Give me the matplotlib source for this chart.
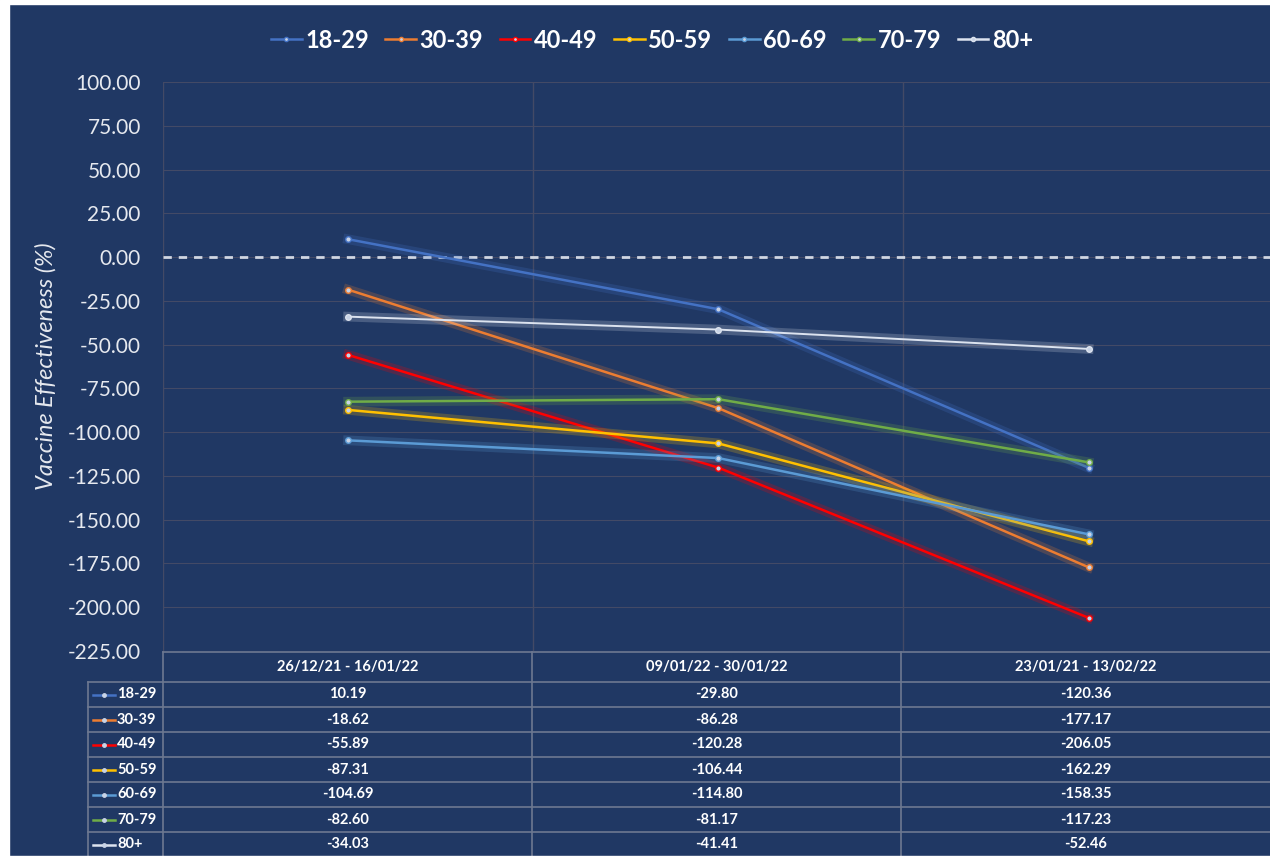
import matplotlib
matplotlib.use("Agg")
from matplotlib import pyplot as plt
from matplotlib.lines import Line2D
from matplotlib.patches import Rectangle
import matplotlib.patheffects as pe

# DATA
periods = ["26/12/21 - 16/01/22", "09/01/22 - 30/01/22", "23/01/21 - 13/02/22"]
groups = ["18-29", "30-39", "40-49", "50-59", "60-69", "70-79", "80+"]
v_18_29 = [10.19, -29.80, -120.36]
v_30_39 = [-18.62, -86.28, -177.17]
v_40_49 = [-55.89, -120.28, -206.05]
v_50_59 = [-87.31, -106.44, -162.29]
v_60_69 = [-104.69, -114.80, -158.35]
v_70_79 = [-82.60, -81.17, -117.23]
v_80 = [-34.03, -41.41, -52.46]
series = [v_18_29, v_30_39, v_40_49, v_50_59, v_60_69, v_70_79, v_80]
yticks = list(range(100, -226, -25))

# STYLE
BG = "#203864"
GRID = "#434a66"
TABLE_LINE = "#6d7891"
colors = ["#4472C4", "#ED7D31", "#FF0000", "#FFC000", "#5B9BD5", "#70AD47", "#DCE3EF"]
plt.rcParams["font.family"] = ["Lato", "DejaVu Sans"]

W, H = 1270, 858
fig = plt.figure(figsize=(12.7, 8.58), dpi=100, facecolor=BG)

def fx(px):
    return px / W

def fy(py):
    return 1 - py / H

# white frame on the left / top / bottom edges
fig.patches.append(Rectangle((0, 0), fx(9), 1, transform=fig.transFigure, color="white", zorder=0))
fig.patches.append(Rectangle((0, fy(4)), 1, 4 / H, transform=fig.transFigure, color="white", zorder=0))
fig.patches.append(Rectangle((0, 0), 1, 2 / H, transform=fig.transFigure, color="white", zorder=0))

# MAIN PLOT
ax_left, ax_right = 163, 1270
ax_top, ax_bot = 82, 651
ax = fig.add_axes([fx(ax_left), fy(ax_bot), fx(ax_right - ax_left), (ax_bot - ax_top) / H])
ax.set_facecolor(BG)
x = list(range(len(periods)))
ax.set_xlim(-0.5, 2.49)
ax.set_ylim(-225, 100)
ax.set_yticks(yticks)
ax.set_yticklabels([f"{t:.2f}" for t in yticks], color="#E6E9EF", fontsize=15)
ax.set_xticks([])
ax.tick_params(axis="y", length=0, pad=16)
for s in ax.spines.values():
    s.set_visible(False)
for t in yticks:
    ax.axhline(t, color=GRID, lw=0.8, zorder=1)
for b in [-0.5, 0.5, 1.5]:
    ax.axvline(b, color=GRID, lw=1.0, zorder=1)
ax.axhline(0, color="#D0D6E2", lw=2, ls=(0, (3, 2.5)), zorder=2)

for vals, c in zip(series, colors):
    lw = 1.4 if c == colors[-1] else 1.8
    ax.plot(x, vals, color=c, lw=lw, zorder=4,
            path_effects=[pe.Stroke(linewidth=7, foreground=c, alpha=0.22), pe.Normal()])
    ax.plot(x, vals, ls="none", marker="o", ms=4, mfc="#C8D3E6", mec=c, mew=1.0, zorder=5)

ax.set_ylabel("Vaccine Effectiveness (%)", color="#E6E9EF", fontsize=17, style="italic", labelpad=8)

# LEGEND
handles = [Line2D([0], [0], color=c, lw=1.8, marker="o", ms=3, mfc="#C8D3E6", mec=c) for c in colors]
leg = fig.legend(handles, groups, loc="center", bbox_to_anchor=(fx(652), fy(40)), ncol=7,
                 frameon=False, fontsize=17, handlelength=1.3, handletextpad=0.15, columnspacing=0.7)
for t in leg.get_texts():
    t.set_color("white")
    t.set_fontweight("bold")

# DATA TABLE
tab = fig.add_axes([0, 0, 1, 1], facecolor="none")
tab.set_xlim(0, W)
tab.set_ylim(H, 0)
tab.axis("off")
head_top, head_bot = 652, 682
row_h = 25
leg_left = 88
col_w = (ax_right - ax_left) / len(periods)
table_bot = head_bot + row_h * len(groups)
lkw = dict(color=TABLE_LINE, lw=1.2)
tab.plot([ax_left, ax_right], [head_top, head_top], **lkw)
for i in range(len(groups) + 1):
    yy = head_bot + i * row_h
    tab.plot([leg_left, ax_right], [yy, yy], **lkw)
tab.plot([leg_left, leg_left], [head_bot, table_bot], **lkw)
for j in range(len(periods)):
    xx = ax_left + j * col_w
    tab.plot([xx, xx], [head_top, table_bot], **lkw)
for j, p in enumerate(periods):
    tab.text(ax_left + (j + 0.5) * col_w, (head_top + head_bot) / 2, p, ha="center", va="center",
             color="white", fontsize=10.5, fontweight="bold")
for i, (g, vals, c) in enumerate(zip(groups, series, colors)):
    yc = head_bot + (i + 0.5) * row_h
    tab.plot([leg_left + 5, leg_left + 27], [yc, yc], color=c, lw=1.8)
    tab.plot([leg_left + 16], [yc], marker="o", ms=2.5, color="#C8D3E6")
    tab.text(leg_left + 29, yc, g, ha="left", va="center", color="white", fontsize=10.5, fontweight="bold")
    for j, v in enumerate(vals):
        tab.text(ax_left + (j + 0.5) * col_w, yc, f"{v:.2f}", ha="center", va="center",
                 color="white", fontsize=10.5, fontweight="bold")

fig.savefig("out.png", dpi=100, facecolor=BG)
